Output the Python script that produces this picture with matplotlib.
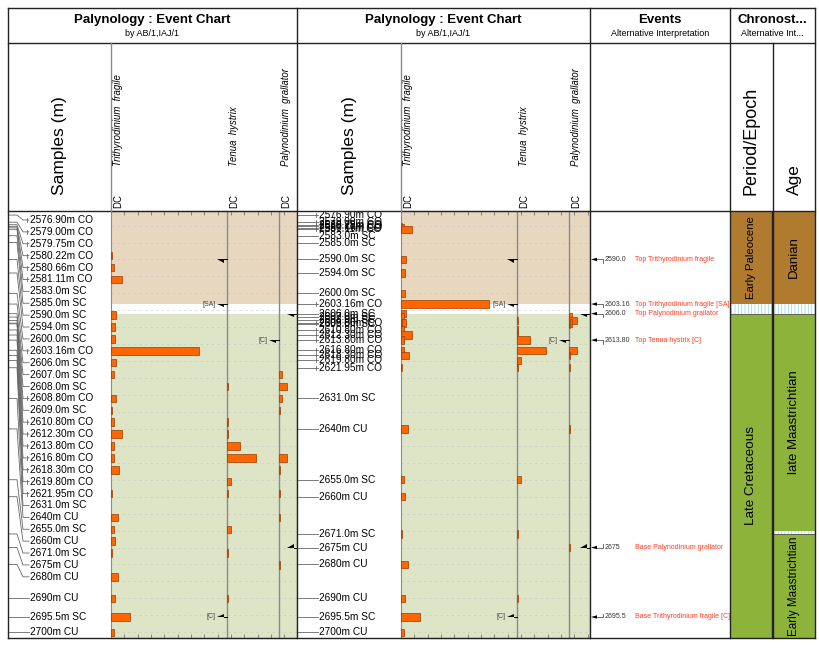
import matplotlib.pyplot as plt
from matplotlib.patches import Rectangle, Polygon
import numpy as np

plt.rcParams['font.family'] = ['Liberation Sans', 'DejaVu Sans']
plt.rcParams['hatch.linewidth'] = 0.6

# samples (depth + sample type)
sample_labels = ['2576.90m CO', '2579.00m CO', '2579.75m CO', '2580.22m CO', '2580.66m CO',
                 '2581.11m CO', '2583.0m SC', '2585.0m SC', '2590.0m SC', '2594.0m SC',
                 '2600.0m SC', '2603.16m CO', '2606.0m SC', '2607.0m SC', '2608.0m SC',
                 '2608.80m CO', '2609.0m SC', '2610.80m CO', '2612.30m CO', '2613.80m CO',
                 '2616.80m CO', '2618.30m CO', '2619.80m CO', '2621.95m CO', '2631.0m SC',
                 '2640m CU', '2655.0m SC', '2660m CU', '2671.0m SC', '2675m CU',
                 '2680m CU', '2690m CU', '2695.5m SC', '2700m CU']
depths = [float(s.split('m')[0]) for s in sample_labels]

species = ['Trithyrodinium  fragile', 'Tenua  hystrix', 'Palynodinium  grallator']
t_fragile = [0, 0, 0, 1, 2, 8, 0, 0, 4, 3, 3, 66, 4, 2, 0, 4, 1, 2, 8, 2, 2, 6, 0, 1,
             0, 5, 2, 3, 1, 0, 5, 3, 14, 2]
t_hystrix = [0, 0, 0, 0, 0, 0, 0, 0, 0, 0, 0, 0, 0, 0, 1, 0, 0, 1, 1, 10, 22, 0, 3, 1,
             0, 0, 3, 0, 1, 0, 0, 1, 0, 0]
p_grallator = [0, 0, 0, 0, 0, 0, 0, 0, 0, 0, 0, 0, 0, 2, 6, 2, 1, 0, 0, 0, 6, 1, 0, 1,
               0, 1, 0, 0, 0, 1, 0, 0, 0, 0]
counts = [t_fragile, t_hystrix, p_grallator]

# events
ev_depths = [2590.0, 2603.16, 2606.0, 2613.80, 2675, 2695.5]
ev_text = ['2590.0', '2603.16', '2606.0', '2613.80', '2675', '2695.5']
ev_names = ['Top Trithyrodinium fragile', 'Top Trithyrodinium fragile [SA]',
            'Top Palynodinium grallator', 'Top Tenua hystrix [C]',
            'Base Palynodinium grallator', 'Base Trithyrodinium fragile [C]']
ev_species = [0, 0, 2, 1, 2, 0]
ev_qual = ['', '[SA]', '', '[C]', '', '[C]']

# chronostratigraphy
period_names = ['Early Paleocene', 'Late Cretaceous']
period_top = [None, 2606.0]
period_base = [2603.16, None]
age_names = ['Danian', 'late Maastrichtian', 'Early Maastrichtian']
age_top = [None, 2606.0, 2671.0]
age_base = [2603.16, 2670.0, None]

W, H = 820, 648
fig = plt.figure(figsize=(W / 100, H / 100), dpi=100)


def px_axes(x0, y0, x1, y1):
    a = fig.add_axes([x0 / W, 1 - y1 / H, (x1 - x0) / W, (y1 - y0) / H])
    return a


y_top = depths[0] - 1.2
y_bot = depths[-1] + 1.7
tan_bg, green_bg = '#e7d7bf', '#dde5c6'
light = {'Early Paleocene': tan_bg, 'Late Cretaceous': green_bg}
strong = {'Early Paleocene': '#b07b2e', 'Late Cretaceous': '#8db33b',
          'Danian': '#b07b2e', 'late Maastrichtian': '#8db33b', 'Early Maastrichtian': '#8db33b'}
bar_col, bar_edge = '#ff6600', '#9a3c00'
PX_PER_COUNT = 4 / 3
col_start = [0, 87, 126]


def spread(vals, gap, lo):
    # push overlapping labels apart (groups centred on their mean, clamped at top)
    groups = [[v] for v in vals]

    def place(g):
        return max(np.mean(g) - gap * (len(g) - 1) / 2, lo)
    merged = True
    while merged:
        merged = False
        starts = [place(g) for g in groups]
        for i in range(len(groups) - 1):
            if starts[i + 1] - (starts[i] + gap * (len(groups[i]) - 1)) < gap:
                groups[i] = groups[i] + groups.pop(i + 1)
                merged = True
                break
    out = []
    for g in groups:
        s = place(g)
        out += [s + gap * k for k in range(len(g))]
    return out


label_pos = spread(depths, 3.51, depths[0] + 1.45)


def species_panel(ax, ypos, width_px):
    right = width_px / PX_PER_COUNT
    ax.set_xlim(0, right)
    ax.set_ylim(y_bot, y_top)
    edges = [y_top] + [v for pair in zip(period_base[:-1], period_top[1:]) for v in pair] + [y_bot]
    for i, name in enumerate(period_names):
        ax.axhspan(edges[2 * i], edges[2 * i + 1], color=light[name], lw=0, zorder=0)
    ax.hlines(np.arange(2580, 2701, 5), 0, right, colors='#c4c4c4', lw=0.5,
              linestyles=(0, (4, 4)), alpha=0.7, zorder=1)
    for c in col_start[1:]:
        ax.axvline(c, color='#8a8a8a', lw=1, zorder=2)
    ends = col_start[1:] + [right]
    for k, vals in enumerate(counts):
        yy = [y for y, v in zip(ypos, vals) if v > 0]
        vv = [v for v in vals if v > 0]
        ax.barh(yy, vv, left=col_start[k], height=2.2, color=bar_col,
                edgecolor=bar_edge, lw=0.5, zorder=3)
    for d, sp, q, nm in zip(ev_depths, ev_species, ev_qual, ev_names):
        xr = ends[sp]
        s = 1 if nm.startswith('Top') else -1
        ax.add_patch(Polygon([(xr - 7.5, d), (xr - 2.5, d), (xr - 2.5, d + s * 0.9)],
                             closed=True, color='black', lw=0, zorder=4))
        ax.plot([xr - 2.5, xr], [d, d], color='black', lw=0.7, zorder=4)
        if q:
            ax.text(xr - 8.5, d, q, fontsize=5, color='#444444', ha='right', va='center', zorder=4)
    ax.set_xticks(np.arange(0, right, 10))
    ax.set_yticks([])
    ax.tick_params(axis='x', direction='in', length=3, top=True, bottom=True,
                   labelbottom=False, color='#777777', width=0.6)
    ax.spines['left'].set_color('#8a8a8a')
    for sp_ in ['top', 'bottom', 'right']:
        ax.spines[sp_].set_color('#222222')


def samples_column(ax, ypos, width_px, spread_labels):
    ax.set_xlim(0, width_px)
    ax.set_ylim(y_bot, y_top)
    ax.set_xticks([])
    ax.set_yticks([])
    for sp_ in ax.spines.values():
        sp_.set_visible(False)
    for d, p, lab in zip(depths, ypos, sample_labels):
        if spread_labels:
            ax.plot([0, 9, 15, 21], [d, d, p, p], color='#666666', lw=0.6)
        else:
            ax.plot([0, 21], [d, d], color='#666666', lw=0.6)
        if lab.endswith('CO'):
            ax.plot([19, 19], [p - 0.6, p + 0.6], color='#666666', lw=0.6)
        ax.text(22.5, p, lab, fontsize=7.3, va='center', ha='left', color='black', clip_on=True)


ax_s1 = px_axes(8, 211, 111, 638)
ax_p1 = px_axes(111, 211, 297, 638)
ax_s2 = px_axes(297, 211, 401, 638)
ax_p2 = px_axes(401, 211, 590, 638)
ax_ev = px_axes(590, 211, 730, 638)
ax_ch = px_axes(730, 211, 815, 638)

samples_column(ax_s1, label_pos, 103, True)
species_panel(ax_p1, label_pos, 186)
samples_column(ax_s2, depths, 104, False)
species_panel(ax_p2, depths, 189)

# events column
ax_ev.set_xlim(0, 140)
ax_ev.set_ylim(y_bot, y_top)
ax_ev.set_xticks([])
ax_ev.set_yticks([])
for sp_ in ax_ev.spines.values():
    sp_.set_visible(False)
for d, t, nm in zip(ev_depths, ev_text, ev_names):
    s = 1 if nm.startswith('Top') else -1
    ax_ev.add_patch(Polygon([(1, d), (7, d - 0.5), (7, d + 0.5)], closed=True,
                            color='black', lw=0))
    ax_ev.plot([7, 13, 13], [d, d, d + s * 1.0], color='#555555', lw=0.6)
    ax_ev.text(15, d, t, fontsize=5, color='#333333', va='center', ha='left')
    ax_ev.text(45, d, nm, fontsize=5, color='#ff3b1f', va='center', ha='left')

# chronostratigraphy column
ax_ch.set_xlim(0, 2)
ax_ch.set_ylim(y_bot, y_top)
ax_ch.set_xticks([])
ax_ch.set_yticks([])
for sp_ in ax_ch.spines.values():
    sp_.set_visible(False)
sizes = {'Early Paleocene': 8.2, 'Late Cretaceous': 9.7, 'Danian': 9.5,
         'late Maastrichtian': 9.5, 'Early Maastrichtian': 8.4}
for x0, names, tops, bases in [(0, period_names, period_top, period_base),
                               (1, age_names, age_top, age_base)]:
    tops = [y_top if t is None else t for t in tops]
    bases = [y_bot if b is None else b for b in bases]
    for nm, t, b in zip(names, tops, bases):
        ax_ch.add_patch(Rectangle((x0, t), 1, b - t, facecolor=strong[nm],
                                  edgecolor='#333333', lw=0.5))
        ax_ch.text(x0 + 0.5, (t + b) / 2, nm, rotation=90, ha='center', va='center',
                   fontsize=sizes[nm], color='black')
    for b, t in zip(bases[:-1], tops[1:]):
        ax_ch.add_patch(Rectangle((x0, b), 1, t - b, facecolor='white',
                                  edgecolor='#9fd9ec', hatch='|||||', lw=0))
ax_ch.axvline(1, color='#222222', lw=1)

# frame and headers
ov = fig.add_axes([0, 0, 1, 1])
ov.set_xlim(0, W)
ov.set_ylim(H, 0)
ov.axis('off')
ov.patch.set_alpha(0)
ov.set_zorder(10)
lk = dict(color='#222222', lw=1)
for y in [8, 43, 211, 638]:
    ov.plot([8, 815], [y, y], **lk)
for x in [8, 297, 590, 730, 815]:
    ov.plot([x, x], [8, 638], **lk)
ov.plot([773, 773], [43, 638], **lk)
for x in [111, 401.5]:
    ov.plot([x, x], [43, 211], color='#8a8a8a', lw=1)

for cx in [152.5, 443.5]:
    ov.text(cx, 20, 'Palynology : Event Chart', fontsize=9.5, fontweight='bold',
            ha='center', va='center')
    ov.text(cx, 34, 'by AB/1,IAJ/1', fontsize=6.5, ha='center', va='center')
ov.text(660, 20, 'Events', fontsize=9.5, fontweight='bold', ha='center', va='center')
ov.text(660, 34, 'Alternative Interpretation', fontsize=6.5, ha='center', va='center')
ov.text(772.5, 20, 'Chronost...', fontsize=9.5, fontweight='bold', ha='center', va='center')
ov.text(772.5, 34, 'Alternative Int...', fontsize=6.5, ha='center', va='center')

for x0, xs in [(8, 111), (297, 401.5)]:
    ov.text((x0 + xs) / 2, 195, 'Samples (m)', rotation=90, fontsize=12.5,
            ha='center', va='bottom')
    for c, nm in zip(col_start, species):
        xc = xs + c * PX_PER_COUNT + 7
        ov.text(xc, 166, nm, rotation=90, fontsize=6.9, style='italic',
                ha='center', va='bottom')
        ov.text(xc, 208, 'DC', rotation=90, fontsize=6.9, ha='center', va='bottom')
ov.text(751.5, 195, 'Period/Epoch', rotation=90, fontsize=13, ha='center', va='bottom')
ov.text(794, 195, 'Age', rotation=90, fontsize=12.5, ha='center', va='bottom')

fig.savefig('out.png', dpi=100, facecolor='white')
